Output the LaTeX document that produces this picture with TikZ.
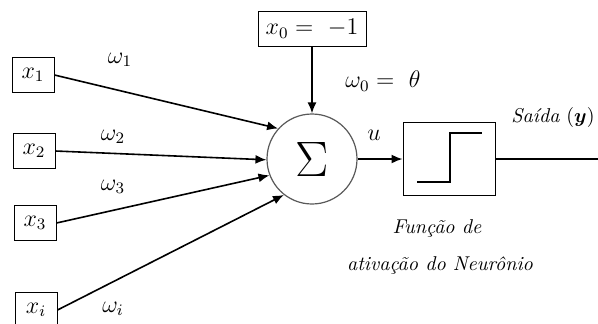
\documentclass[tikz,border=0pt]{standalone}
\usepackage{amsmath,bm}
\usetikzlibrary{arrows.meta}

\begin{document}
\begin{tikzpicture}[x=0.5pt,y=-0.5pt,
  entrada/.style={draw,line width=0.5pt,minimum width=21pt,minimum height=17.5pt,inner sep=0pt,font=\large},
  seta/.style={-{Latex[length=5.5pt,width=4.5pt]},line width=0.8pt}]
\useasboundingbox (0,0) rectangle (598,323);
\node[entrada] (x1) at (33,75) {$x_1$};
\node[entrada] (x2) at (34,151) {$x_2$};
\node[entrada] (x3) at (35,223) {$x_3$};
\node[entrada] (xi) at (36,310) {$x_i$};
\node[entrada,minimum width=54pt] (x0) at (312,29) {$x_0 =\ -1$};
\node[draw=gray!70!black,line width=0.6pt,circle,minimum size=45pt,inner sep=0pt] (soma) at (312,159) {\Huge$\Sigma$};
\node[entrada,minimum width=46pt,minimum height=36.5pt] (ativ) at (449,159) {};
\coordinate (fim) at (598,159);
\draw[line width=0.9pt] (417,182) -- (450,182) -- (450,133) -- (482,133);
\draw[seta] (x1.east) -- (soma.138);
\draw[seta] (x2.east) -- (soma.181);
\draw[seta] (x3.east) -- (soma.201);
\draw[seta] (xi.east) -- (soma.232);
\draw[seta] (x0.south) -- (soma.north);
\draw[seta] (soma.east) -- (ativ.west);
\draw[line width=0.8pt] (ativ.east) -- (fim);
\node[font=\large] (w1) at (120,60) {$\omega_1$};
\node[font=\large] (w2) at (113,137) {$\omega_2$};
\node[font=\large] (w3) at (113,187) {$\omega_3$};
\node[font=\large,inner sep=1pt] (wi) at (113,309) {$\omega_i$};
\node[font=\large] (w0) at (383,81) {$\omega_0 =\ \theta$};
\node[font=\large] (u) at (374,135) {$u$};
\node (saida) at (553,117) {\textit{Saída} $(\bm{y})$};
\node (func1) at (437,228) {\textit{Função de}};
\node (func2) at (440,265) {\textit{ativação do Neurônio}};
\end{tikzpicture}
\end{document}
